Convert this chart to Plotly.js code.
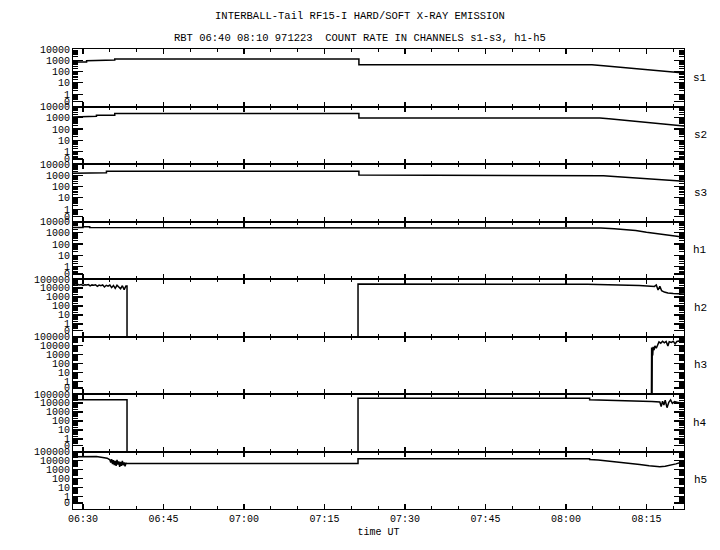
<!DOCTYPE html>
<html>
<head>
<meta charset="utf-8">
<script src="https://cdn.plot.ly/plotly-3.0.1.min.js"></script>
<style>html,body{margin:0;padding:0;background:#fff;}#chart{width:720px;height:550px;}</style>
</head>
<body>
<div id="chart"></div>
<script>
// ---- data (count rates; time UT on 1997-12-23) ----
const DAY = '1997-12-23 ';
const panelNames = ['s1','s2','s3','h1','h2','h3','h4','h5'];
const titleLine1 = 'INTERBALL-Tail RF15-I HARD/SOFT X-RAY EMISSION';
const titleLine2 = 'RBT 06:40 08:10 971223  COUNT RATE IN CHANNELS s1-s3, h1-h5';
const xTitle = 'time UT';
const softTickText = ['0','1','10','100','1000','10000'];
const hardTickText = ['0','1','10','100','1000','10000','100000'];

const s1Time = ['06:28:00','06:30:40','06:30:40','06:33:30','06:33:30','06:35:55','06:35:55','07:21:25','07:21:25','08:04:50','08:07:00','08:09:00','08:11:00','08:13:00','08:15:00','08:17:00','08:19:00','08:21:00','08:22:00'];
const s1Rate = [700,700,900,900,1050,1050,1300,1300,400,400,320,265,220,180,148,122,98,82,74];

const s2Time = ['06:28:00','06:30:00','06:30:00','06:32:30','06:32:30','06:35:55','06:35:55','07:21:25','07:21:25','08:06:20','08:08:00','08:10:00','08:12:00','08:14:00','08:16:00','08:18:00','08:20:00','08:22:00'];
const s2Rate = [1170,1170,1350,1350,1650,1650,2400,2400,960,960,800,640,520,420,340,270,220,185];

const s3Time = ['06:28:00','06:30:38','06:30:38','06:34:22','06:34:22','07:21:25','07:21:25','08:05:00','08:07:00','08:09:00','08:11:00','08:13:00','08:15:00','08:17:00','08:19:00','08:21:00','08:22:00'];
const s3Rate = [1480,1480,1660,1660,2240,2240,1050,1050,900,780,670,580,500,430,370,320,300];

const h1Time = ['06:28:00','06:30:00','06:30:00','06:31:15','06:31:15','07:21:25','07:21:25','08:06:30','08:09:00','08:11:00','08:13:00','08:15:00','08:17:00','08:19:00','08:21:00','08:22:00'];
const h1Rate = [2900,2900,3500,3500,2900,2900,2600,2600,2300,2000,1600,1100,800,600,470,440];

const h2Time = ['06:28:00','06:28:20','06:28:40','06:29:00','06:29:20','06:29:40','06:30:00','06:30:20','06:30:40','06:31:00','06:31:20','06:31:40','06:32:00','06:32:20','06:32:40','06:33:00','06:33:20','06:33:40','06:34:00','06:34:20','06:34:40','06:35:00','06:35:20','06:35:40','06:36:00','06:36:20','06:36:40','06:37:00','06:37:20','06:37:40','06:38:00',
  '06:38:12','06:38:12','07:21:15','07:21:15','08:04:00','08:13:40','08:15:00','08:16:30','08:16:50','08:17:10','08:17:30','08:17:50','08:18:20','08:19:00','08:20:00','08:21:00','08:22:00'];
const h2Rate = [25000,24000,21000,25000,22000,24000,19000,23000,21000,24000,17000,22000,20000,23000,15000,21000,18000,22000,13000,20000,16000,21000,11000,19000,9000,20000,14000,8000,18000,6500,17000,
  17000,0,0,28000,26000,19000,16000,15000,22000,6000,15000,5000,3500,2800,2500,2300,2200];

const h3Time = ['06:28:00','08:15:55','08:15:58','08:16:02','08:16:05','08:16:10','08:16:15','08:16:25','08:16:35','08:16:50','08:17:05','08:17:20','08:17:40','08:18:00','08:18:20','08:18:40','08:19:00','08:19:15','08:19:40','08:20:00','08:20:20','08:20:40','08:21:00','08:21:20','08:21:40','08:22:00'];
const h3Rate = [0,0,6000,0,4000,800,7000,3000,9000,5000,12000,25000,18000,30000,20000,28000,9000,26000,22000,30000,15000,28000,32000,25000,30000,28000];

const h4Time = ['06:28:00','06:38:12','06:38:12','07:21:15','07:21:15','08:04:25','08:04:25','08:08:00','08:11:00','08:13:45','08:16:00','08:17:30','08:17:45','08:18:00','08:18:15','08:18:30','08:18:50','08:19:10','08:19:30','08:19:50','08:20:15','08:21:00','08:22:00'];
const h4Rate = [23000,23000,0,0,33000,33000,23000,21000,19500,18000,15000,13000,4000,16000,6000,20000,3000,12000,22000,9000,14000,11000,10000];

const h5Time = ['06:28:00','06:32:30','06:33:40','06:34:30','06:35:00','06:35:10','06:35:20','06:35:30','06:35:40','06:35:50','06:36:00','06:36:10','06:36:20','06:36:30','06:36:40','06:36:50','06:37:00','06:37:10','06:37:20','06:37:30','06:37:40','06:37:50','06:38:00','06:38:12','07:21:15','07:21:15','08:04:25','08:04:25','08:06:00','08:08:00','08:10:00','08:12:00','08:13:45','08:15:30','08:17:30','08:18:30','08:19:20','08:20:30','08:21:30','08:22:00'];
const h5Rate = [26000,28000,22000,18000,12000,6000,14000,4000,11000,3000,9000,2500,12000,3500,8000,2000,7000,2500,9000,3000,6000,2200,5000,4600,4600,15500,15500,13000,11000,8500,6500,4800,3600,2600,2000,2300,2800,4200,6500,7000];

const seriesTime = [s1Time,s2Time,s3Time,h1Time,h2Time,h3Time,h4Time,h5Time];
const seriesRate = [s1Rate,s2Rate,s3Rate,h1Rate,h2Rate,h3Rate,h4Rate,h5Rate];

// ---- layout / styling ----
const FONT = 'Liberation Mono, DejaVu Sans Mono, monospace';
const N = panelNames.length;
const xRange = [DAY + '06:28:08', DAY + '08:22:00'];
const ZERO_PLOT = 1e-4; // zero counts fall on the panel floor

const traces = [];
const layout = {
  width: 720, height: 550,
  margin: {l: 73, r: 36, t: 49, b: 41},
  paper_bgcolor: '#fff', plot_bgcolor: '#fff',
  showlegend: false,
  font: {family: FONT, size: 10, color: '#000'},
  title: {text: titleLine1, x: 0.5, xref: 'container', xanchor: 'center', y: 1 - 15/550, yref: 'container', yanchor: 'middle', font: {family: FONT, size: 10.5, color: '#000'}},
  annotations: [
    {text: titleLine2, xref: 'paper', yref: 'paper', x: (360-73)/611, y: (509-38)/460, xanchor: 'center', yanchor: 'middle', showarrow: false, font: {family: FONT, size: 10.5, color: '#000'}}
  ]
};

function minorVals(lo, hi) {
  const v = [];
  for (let k = lo; k < hi; k++) for (let d = 2; d <= 9; d++) v.push(d * Math.pow(10, k));
  return v;
}

for (let i = 0; i < N; i++) {
  const sfx = i === 0 ? '' : String(i + 1);
  const hard = i >= 4;
  traces.push({
    type: 'scatter', mode: 'lines',
    x: seriesTime[i].map(t => DAY + t),
    y: seriesRate[i].map(v => v > 0 ? v : ZERO_PLOT),
    xaxis: 'x' + sfx, yaxis: 'y' + sfx,
    line: {color: '#000', width: 1.5},
    hoverinfo: 'skip'
  });
  const top = hard ? 5 : 4;
  const bottom = hard ? -1.4 : -1.1;
  const zeroTick = hard ? Math.pow(10, -0.73) : Math.pow(10, -0.65);
  const tickvals = [zeroTick];
  for (let k = 0; k <= top; k++) tickvals.push(Math.pow(10, k));
  layout['xaxis' + sfx] = {
    type: 'date', range: xRange, domain: [0, 1], anchor: 'y' + sfx,
    matches: i === 0 ? undefined : 'x',
    showline: true, linecolor: '#000', linewidth: 1, mirror: 'ticks',
    ticks: 'inside', ticklen: 5, tickwidth: 1.2, tickcolor: '#000',
    tick0: DAY + '06:30:00', dtick: 15 * 60 * 1000, tickformat: '%H:%M',
    minor: {dtick: 5 * 60 * 1000, tick0: DAY + '06:30:00', ticks: 'inside', ticklen: 3, tickwidth: 1.2, tickcolor: '#000', showgrid: false},
    showticklabels: i === N - 1,
    tickfont: {family: FONT, size: 10, color: '#000'},
    showgrid: false, zeroline: false, fixedrange: true,
    title: i === N - 1 ? {text: xTitle, standoff: 3, font: {family: FONT, size: 10, color: '#000'}} : undefined
  };
  layout['yaxis' + sfx] = {
    type: 'log', range: [bottom, top], domain: [1 - (i + 1) / N, 1 - i / N], anchor: 'x' + sfx,
    showline: true, linecolor: '#000', linewidth: 1, mirror: 'ticks',
    tickmode: 'array', tickvals: tickvals, ticktext: hard ? hardTickText : softTickText,
    ticks: 'inside', ticklen: 10, tickwidth: 1.2, tickcolor: '#000',
    minor: {tickmode: 'array', tickvals: minorVals(-1, top), ticks: 'inside', ticklen: 5, tickwidth: 1, tickcolor: '#000', showgrid: false},
    tickfont: {family: FONT, size: 10, color: '#000'},
    showgrid: false, zeroline: false, fixedrange: true
  };
  layout.annotations.push({
    text: panelNames[i], xref: 'paper', yref: 'paper',
    x: (700 - 73) / 611, y: 1 - (i + 0.5) / N,
    xanchor: 'center', yanchor: 'middle', showarrow: false,
    font: {family: FONT, size: 11, color: '#000'}
  });
}

Plotly.newPlot('chart', traces, layout, {displayModeBar: false, staticPlot: true});
</script>
</body>
</html>
